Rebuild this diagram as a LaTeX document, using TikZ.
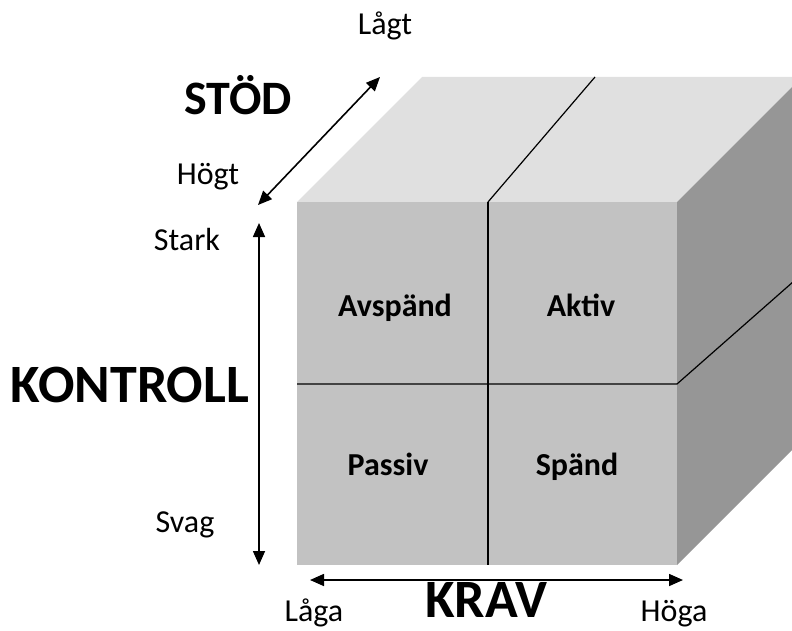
\documentclass[tikz,border=0pt]{standalone}
\usepackage{fontspec}
\setmainfont{Carlito}
\usetikzlibrary{arrows.meta}
\definecolor{frontgrau}{gray}{0.76}
\definecolor{obengrau}{gray}{0.88}
\definecolor{seitengrau}{gray}{0.59}
\tikzset{
	pfeil/.style={{Triangle[length=14pt,width=12pt]}-{Triangle[length=14pt,width=12pt]}, line width=1.6pt},
	etikett/.style={anchor=base, inner sep=1pt, font=\fontsize{32}{34}\selectfont},
	titel/.style={anchor=base, inner sep=1pt, font=\bfseries\fontsize{54}{56}\selectfont},
	feld/.style={anchor=base, font=\bfseries\fontsize{32}{34}\selectfont},
	teiler/.style={line width=1.2pt}
}
\begin{document}
\begin{tikzpicture}[x=1pt, y=-1pt]
\useasboundingbox (0,0) rectangle (792,631);
% Wuerfel
\begin{scope}
	\clip (0,0) rectangle (792,631);
	\fill[obengrau] (297,202) -- (677,202) -- (802,77) -- (422,77) -- cycle;
	\fill[seitengrau] (677,202) -- (802,77) -- (802,440) -- (677,565) -- cycle;
	\fill[frontgrau] (297,202) rectangle (677,565);
	% Teilungslinien
	\coordinate (mo) at (488,202);
	\coordinate (mu) at (488,565);
	\coordinate (mh) at (595,77);
	\coordinate (ml) at (297,384);
	\coordinate (mr) at (677,384);
	\coordinate (ms) at (802,274);
	\draw[teiler] (mo) -- (mu);
	\draw[teiler] (mo) -- (mh);
	\draw[teiler] (ml) -- (mr) -- (ms);
\end{scope}
% Felder
\node[feld] (avspaend) at (395,316) {Avspänd};
\node[feld] (aktiv) at (581,316) {Aktiv};
\node[feld] (passiv) at (388,475) {Passiv};
\node[feld] (spaend) at (577,475) {Spänd};
% STOED
\coordinate (s1) at (258,205);
\coordinate (s2) at (380,77);
\draw[pfeil] (s1) -- (s2);
\node[etikett] (laagt) at (385,35) {Lågt};
\node[etikett] (hoegt) at (208,185) {Högt};
\node[titel, font=\bfseries\fontsize{48}{50}\selectfont] (stoed) at (238,115) {STÖD};
% KONTROLL
\coordinate (k1) at (259,223);
\coordinate (k2) at (259,565);
\draw[pfeil] (k1) -- (k2);
\node[etikett] (stark) at (187,250) {Stark};
\node[etikett] (svag) at (185,532) {Svag};
\node[titel] (kontroll) at (130,402) {KONTROLL};
% KRAV
\coordinate (r1) at (310,580);
\coordinate (r2) at (683,580);
\draw[pfeil] (r1) -- (r2);
\node[etikett] (laaga) at (314,621) {Låga};
\node[titel, inner sep=0pt] (krav) at (486,617) {KRAV};
\node[etikett] (hoega) at (674,621) {Höga};
\end{tikzpicture}
\end{document}
